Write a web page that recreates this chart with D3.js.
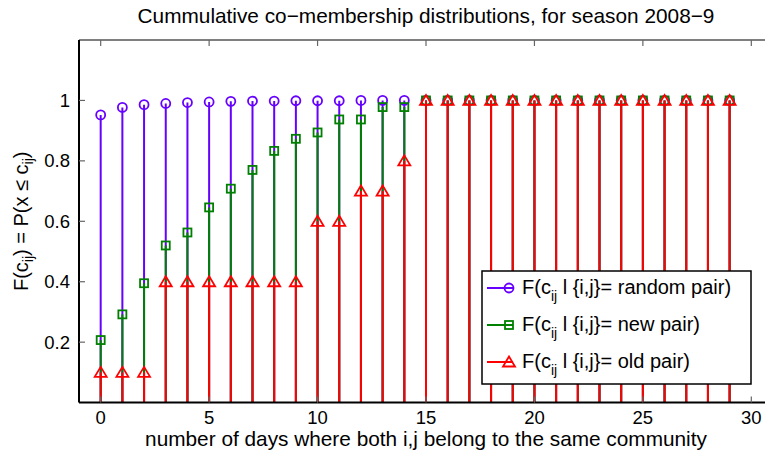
<!DOCTYPE html>
<html>
<head>
<meta charset="utf-8">
<script src="https://cdn.jsdelivr.net/npm/d3@7"></script>
<style>
  html, body { margin: 0; padding: 0; background: #fff; }
  svg { display: block; font-family: "Liberation Sans", Arial, Helvetica, sans-serif; }
</style>
</head>
<body>
<svg id="chart" width="765" height="452"></svg>
<script>
// Days on the x axis
const days = [0, 1, 2, 3, 4, 5, 6, 7, 8, 9, 10, 11, 12, 13, 14,
              15, 16, 17, 18, 19, 20, 21, 22, 23, 24, 25, 26, 27, 28, 29];

// Cumulative distributions F(c_ij) for each pair type
const randomPair = [0.952, 0.977, 0.986, 0.990, 0.993, 0.995, 0.997, 0.998, 0.998, 0.999,
                    0.999, 0.999, 1, 1, 1, 1, 1, 1, 1, 1, 1, 1, 1, 1, 1, 1, 1, 1, 1, 1];
const newPair    = [0.207, 0.292, 0.395, 0.520, 0.563, 0.646, 0.708, 0.770, 0.833, 0.873,
                    0.894, 0.937, 0.937, 0.978, 0.978, 1, 1, 1, 1, 1, 1, 1, 1, 1, 1, 1, 1, 1, 1, 1];
const oldPair    = [0.1, 0.1, 0.1, 0.4, 0.4, 0.4, 0.4, 0.4, 0.4, 0.4,
                    0.6, 0.6, 0.7, 0.7, 0.8, 1, 1, 1, 1, 1, 1, 1, 1, 1, 1, 1, 1, 1, 1, 1];

const xTicks = [0, 5, 10, 15, 20, 25, 30];
const yTicks = [0.2, 0.4, 0.6, 0.8, 1];
const xDomain = [-1, 31];
const yDomain = [0, 1.2];

const titleText = "Cummulative co\u2212membership distributions, for season 2008\u22129";
const xLabelText = "number of days where both i,j belong to the same community";
const legendNames = ["random pair)", "new pair)", "old pair)"];

const series = [
  { values: randomPair, color: "#6600ff", marker: "circle" },
  { values: newPair,    color: "#008000", marker: "square" },
  { values: oldPair,    color: "#ff0000", marker: "triangle" }
];

const svg = d3.select("#chart");
const pLeft = 79, pRight = 773, pTop = 40, pBottom = 402.6;

const x = d3.scaleLinear().domain(xDomain).range([pLeft, pRight]);
const y = d3.scaleLinear().domain(yDomain).range([pBottom, pTop]);

// Marker drawing helper
function drawMarker(g, type, cx, cy, color) {
  if (type === "circle") {
    g.append("circle").attr("cx", cx).attr("cy", cy).attr("r", 4.5)
      .attr("fill", "none").attr("stroke", color).attr("stroke-width", 1.8);
  } else if (type === "square") {
    g.append("rect").attr("x", cx - 4).attr("y", cy - 4).attr("width", 8).attr("height", 8)
      .attr("fill", "none").attr("stroke", color).attr("stroke-width", 1.8);
  } else {
    const h = 5.5, w = 6;
    g.append("path")
      .attr("d", `M${cx},${cy - h}L${cx + w},${cy + h - 1}L${cx - w},${cy + h - 1}Z`)
      .attr("fill", "none").attr("stroke", color).attr("stroke-width", 1.8)
      .attr("stroke-linejoin", "miter");
  }
}

// Frame (top line)
svg.append("line").attr("x1", pLeft).attr("x2", pRight).attr("y1", pTop).attr("y2", pTop)
  .attr("stroke", "#555").attr("stroke-width", 1.5);

// Stems and markers
const plot = svg.append("g");
series.forEach(s => {
  const g = plot.append("g");
  g.selectAll("line.stem").data(days).join("line")
    .attr("class", "stem")
    .attr("x1", d => x(d)).attr("x2", d => x(d))
    .attr("y1", y(0)).attr("y2", (d, i) => y(s.values[i]))
    .attr("stroke", s.color).attr("stroke-width", 2);
  days.forEach((d, i) => drawMarker(g, s.marker, x(d), y(s.values[i]), s.color));
});

// Axes
const tickLen = 6;
const axisG = svg.append("g");
axisG.append("line").attr("x1", pLeft).attr("x2", pRight).attr("y1", pBottom).attr("y2", pBottom)
  .attr("stroke", "#000").attr("stroke-width", 2);
axisG.append("line").attr("x1", pLeft).attr("x2", pLeft).attr("y1", pTop).attr("y2", pBottom)
  .attr("stroke", "#000").attr("stroke-width", 2);
axisG.append("line").attr("x1", pRight).attr("x2", pRight).attr("y1", pTop).attr("y2", pBottom)
  .attr("stroke", "#555").attr("stroke-width", 1.5);

xTicks.forEach(t => {
  axisG.append("line").attr("x1", x(t)).attr("x2", x(t)).attr("y1", pBottom).attr("y2", pBottom - tickLen)
    .attr("stroke", "#666").attr("stroke-width", 1.2);
  axisG.append("line").attr("x1", x(t)).attr("x2", x(t)).attr("y1", pTop).attr("y2", pTop + tickLen)
    .attr("stroke", "#666").attr("stroke-width", 1.2);
  axisG.append("text").attr("x", x(t)).attr("y", 424).attr("text-anchor", "middle")
    .attr("font-size", 18.5).text(t);
});
yTicks.forEach(t => {
  axisG.append("line").attr("x1", pLeft).attr("x2", pLeft + tickLen).attr("y1", y(t)).attr("y2", y(t))
    .attr("stroke", "#666").attr("stroke-width", 1.2);
  axisG.append("line").attr("x1", pRight).attr("x2", pRight - tickLen).attr("y1", y(t)).attr("y2", y(t))
    .attr("stroke", "#666").attr("stroke-width", 1.2);
  axisG.append("text").attr("x", 70).attr("y", y(t) + 6.5).attr("text-anchor", "end")
    .attr("font-size", 18.5).text(t);
});

// Title
svg.append("text").attr("x", (pLeft + pRight) / 2).attr("y", 23).attr("text-anchor", "middle")
  .attr("font-size", 20.8).text(titleText);

// X label
svg.append("text").attr("x", (pLeft + pRight) / 2).attr("y", 446).attr("text-anchor", "middle")
  .attr("font-size", 20.8).text(xLabelText);

// Y label with subscripts
const yl = svg.append("text")
  .attr("transform", `translate(28,${(pTop + pBottom) / 2}) rotate(-90)`)
  .attr("text-anchor", "middle").attr("font-size", 20);
yl.append("tspan").text("F(c");
yl.append("tspan").attr("font-size", 14).attr("dy", 5).text("ij");
yl.append("tspan").attr("dy", -5).text(") = P(x \u2264 c");
yl.append("tspan").attr("font-size", 14).attr("dy", 5).text("ij");
yl.append("tspan").attr("dy", -5).text(")");

// Legend
const lg = svg.append("g");
lg.append("rect").attr("x", 482).attr("y", 271).attr("width", 269).attr("height", 113)
  .attr("fill", "#fff").attr("stroke", "#000").attr("stroke-width", 1.5);
const rowY = [288, 325, 362];
series.forEach((s, i) => {
  const ry = rowY[i];
  lg.append("line").attr("x1", 487).attr("x2", 513).attr("y1", ry).attr("y2", ry)
    .attr("stroke", s.color).attr("stroke-width", 2);
  drawMarker(lg, s.marker, 509, ry, s.color);
  const t = lg.append("text").attr("x", 522).attr("y", ry + 6).attr("font-size", 20);
  t.append("tspan").text("F(c");
  t.append("tspan").attr("font-size", 14).attr("dy", 7).text("ij");
  t.append("tspan").attr("dy", -7).text(" l {i,j}= " + legendNames[i]);
});
</script>
</body>
</html>
